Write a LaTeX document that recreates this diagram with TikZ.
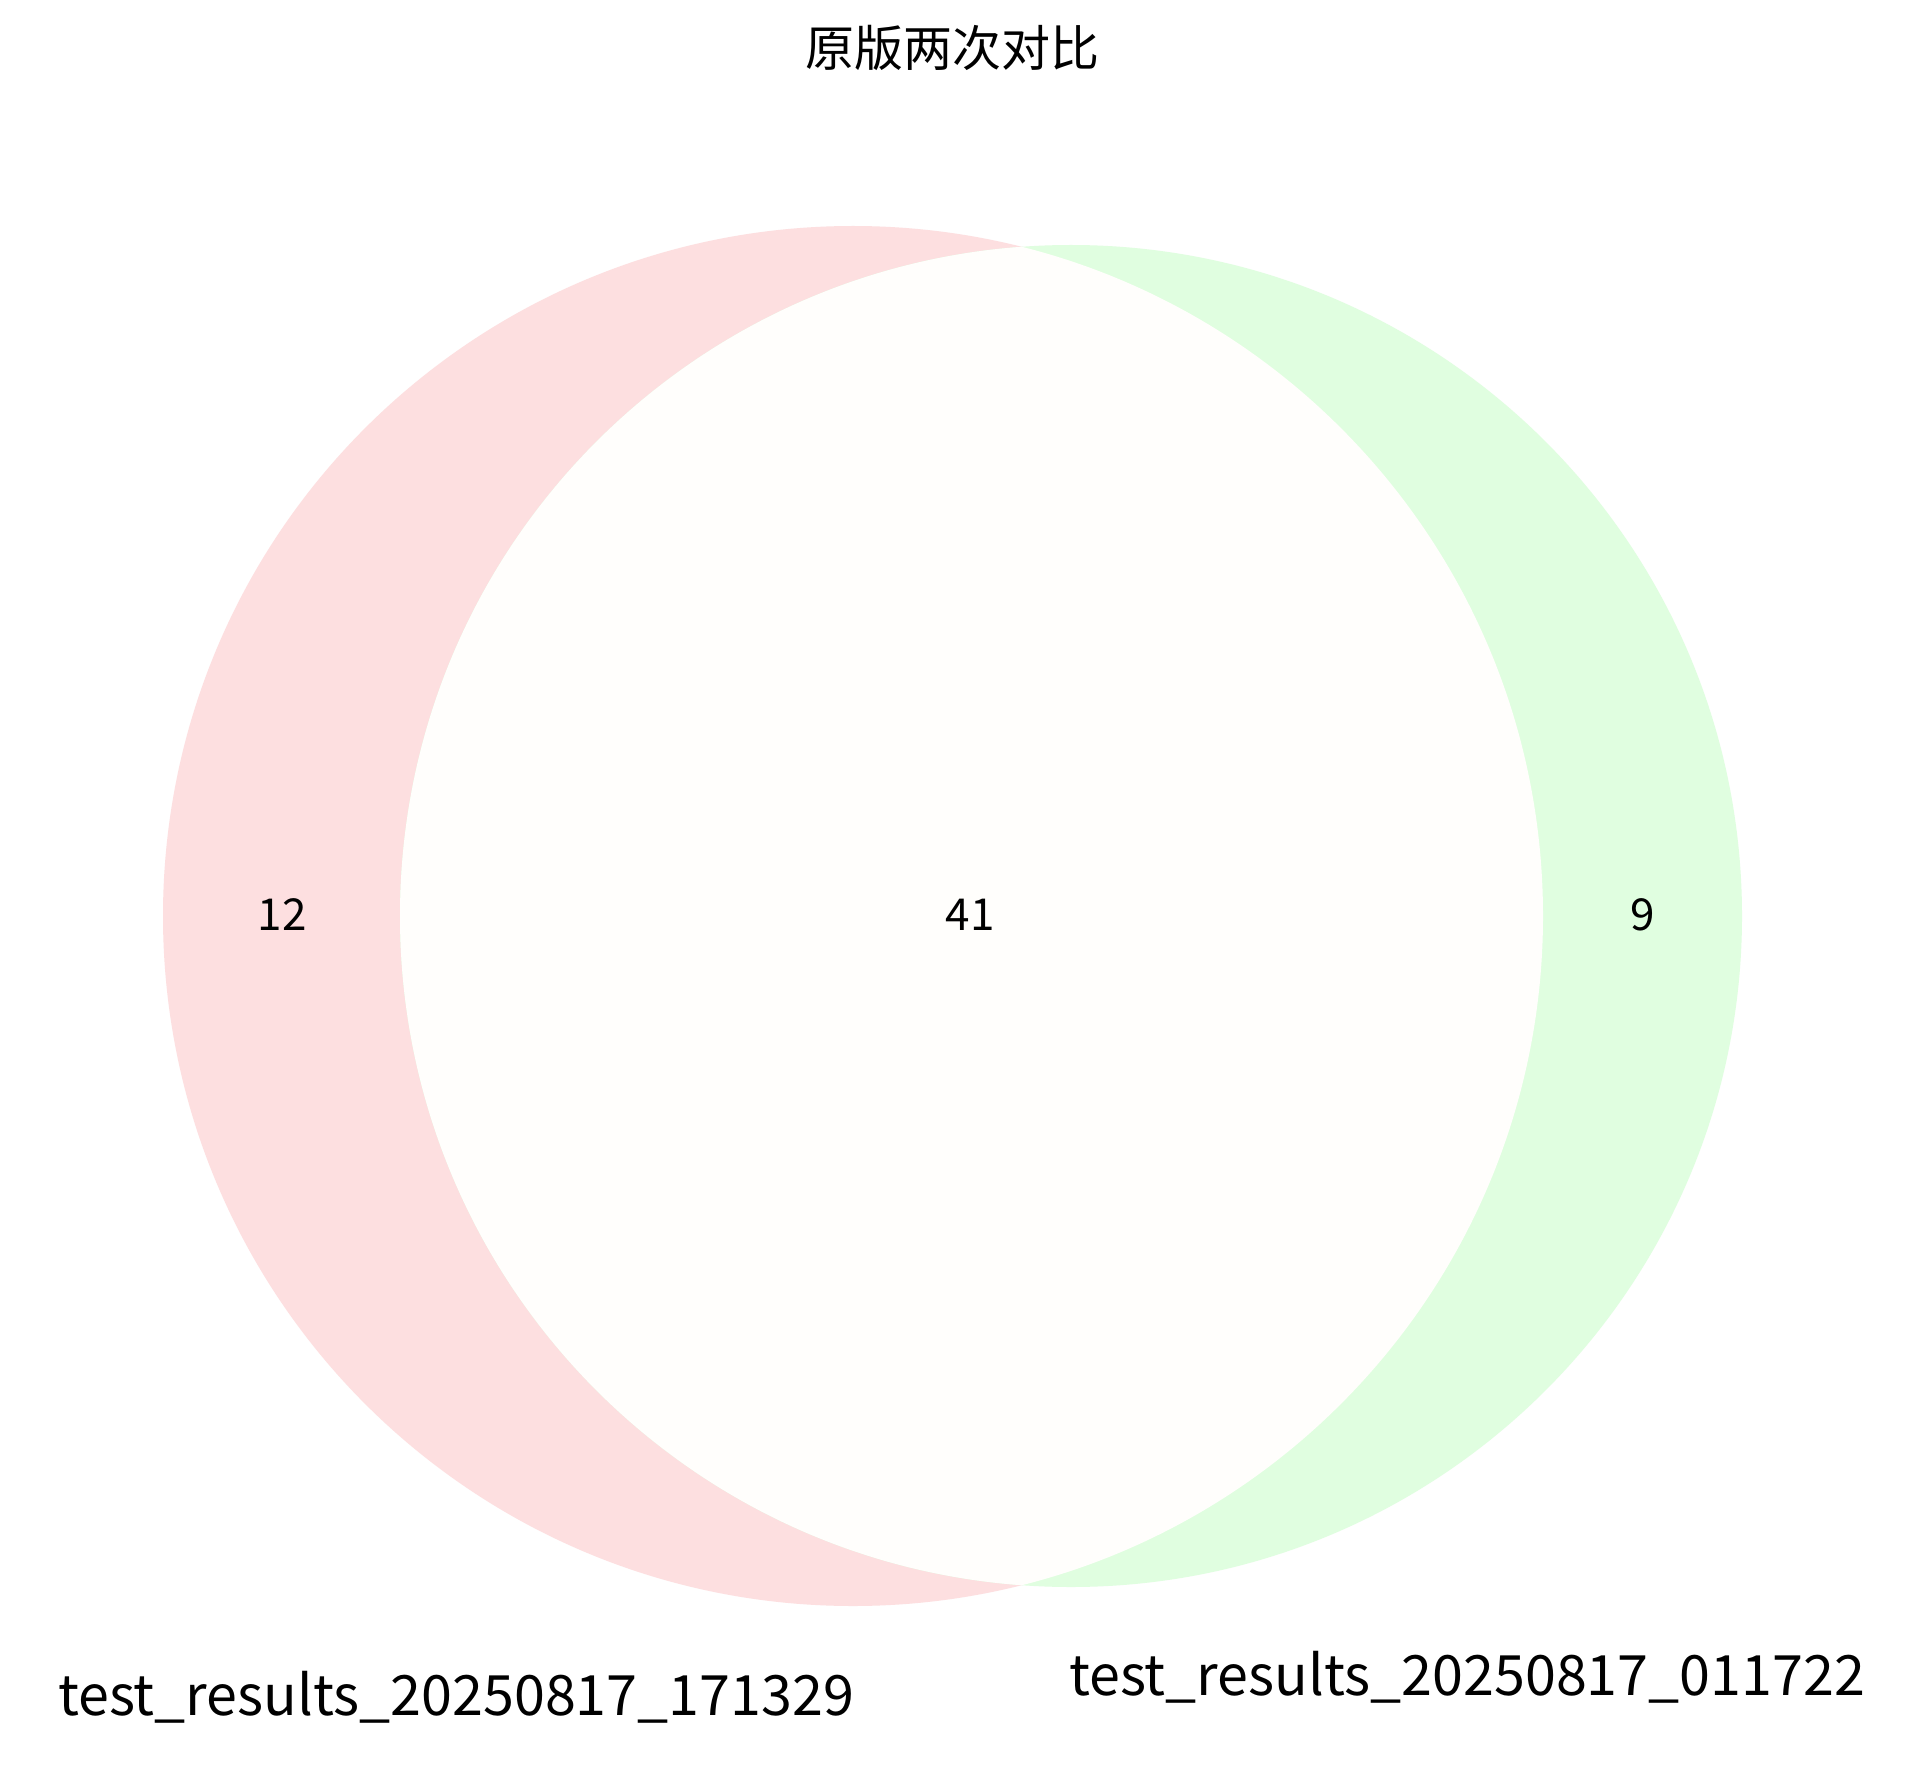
\documentclass[tikz,border=0pt]{standalone}
\usepackage{fontspec}
\setmainfont{Noto Sans CJK SC}
\definecolor{setA}{RGB}{253,223,224}
\definecolor{setB}{RGB}{224,254,224}
\definecolor{setAB}{RGB}{255,254,252}
\tikzset{
  numlabel/.style={font=\fontsize{22}{26}\selectfont, text=black, inner sep=0pt},
  setlabel/.style={font=\fontsize{27.8}{32}\selectfont, text=black, inner sep=0pt},
  titlelabel/.style={font=\fontsize{24.5}{29}\selectfont, text=black, inner sep=0pt}
}
\begin{document}
\begin{tikzpicture}[x=0.5pt,y=-0.5pt]
\useasboundingbox[fill=white] (0,0) rectangle (1905,1770);
% circles
\fill[setA] (853,916) circle[radius=690];
\fill[setB] (1071,916) circle[radius=671];
\begin{scope}
  \clip (853,916) circle[radius=690];
  \fill[setAB] (1071,916) circle[radius=671];
\end{scope}
% title
\node[titlelabel] (title) at (952,48) {原版两次对比};
% region counts
\node[numlabel] (onlyA) at (282,915) {12};
\node[numlabel] (both) at (970,915) {41};
\node[numlabel] (onlyB) at (1643,915) {9};
% set labels
\node[setlabel] (labA) at (456,1697) {test\_results\_20250817\_171329};
\node[setlabel] (labB) at (1467,1677) {test\_results\_20250817\_011722};
\end{tikzpicture}
\end{document}
